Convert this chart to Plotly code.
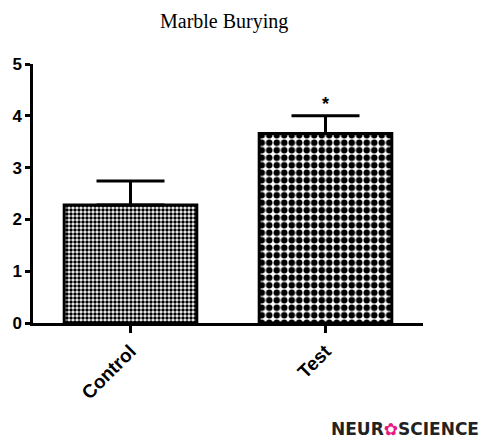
import plotly.graph_objects as go

categories = ["Control", "Test"]
means = [2.28, 3.66]
sem = [0.46, 0.34]
sig_labels = ["", "*"]
y_ticks = [0, 1, 2, 3, 4, 5]

fig = go.Figure()
fig.add_trace(go.Bar(
    x=categories,
    y=means,
    width=0.68,
    marker=dict(
        color="white",
        line=dict(color="black", width=3),
        pattern=dict(
            shape=[".", "."],
            size=[4, 7.5],
            solidity=[0.6, 0.6],
            fgcolor="black",
            bgcolor="white",
            fillmode="replace",
        ),
    ),
    error_y=dict(
        type="data",
        symmetric=False,
        array=sem,
        arrayminus=[0, 0],
        thickness=3,
        width=34,
        color="black",
    ),
    showlegend=False,
))

for c, m, e, s in zip(categories, means, sem, sig_labels):
    if s:
        fig.add_annotation(
            x=c, y=m + e, text=s, showarrow=False,
            yanchor="bottom", yshift=0,
            font=dict(family="Liberation Sans", size=18, color="black", weight="bold"),
        )

fig.add_annotation(
    xref="paper", yref="paper", x=1.149, y=-0.41,
    xanchor="right", yanchor="middle", showarrow=False,
    text="NEUR<span style='color:#e8197f'>✿</span>SCIENCE",
    font=dict(family="DejaVu Sans", size=17, color="#222222", weight="bold"),
)

fig.update_layout(
    width=482, height=440,
    margin=dict(l=33, r=59, t=64, b=117),
    paper_bgcolor="white", plot_bgcolor="white",
    title=dict(
        text="Marble Burying",
        x=0.465, xanchor="center",
        y=0.952, yanchor="middle", yref="container",
        font=dict(family="Liberation Serif", size=20, color="black"),
    ),
    xaxis=dict(
        range=[-0.5, 1.5],
        showline=True, linecolor="black", linewidth=2.5,
        ticks="outside", ticklen=7, tickwidth=2.5, tickcolor="black",
        tickangle=-45, showgrid=False, zeroline=False,
        tickfont=dict(family="Liberation Sans", size=19, color="black", weight="bold"),
    ),
    yaxis=dict(
        range=[0, 5], tickvals=y_ticks,
        showline=True, linecolor="black", linewidth=2.5,
        ticks="outside", ticklen=5, tickwidth=2.5, tickcolor="black",
        showgrid=False, zeroline=False,
        tickfont=dict(family="Liberation Sans", size=17, color="black", weight="bold"),
    ),
)

fig.write_html("out.html", config={"displayModeBar": False},
               post_script="document.body.style.margin='0';")
